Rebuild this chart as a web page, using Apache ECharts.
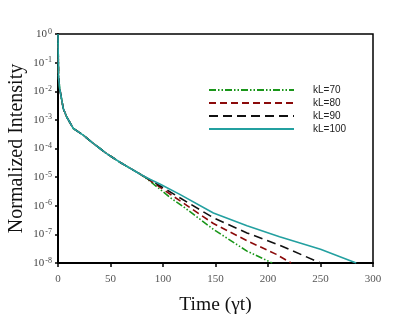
<!DOCTYPE html>
<html>
<head>
<meta charset="utf-8">
<script src="https://cdn.jsdelivr.net/npm/echarts@6/dist/echarts.min.js"></script>
<style>
  html, body { margin: 0; padding: 0; background: #fff; }
  #chart { width: 414px; height: 320px; }
</style>
</head>
<body>
<div id="chart"></div>
<script>
// shared early decay (all kL curves overlap here)
const commonTime = [0, 0.5, 1.6, 5, 8.3, 14.6, 24, 33.6, 40, 46, 59, 78]
const commonIntensity = [1, 3.0e-2, 1.26e-2, 2.5e-3, 1.26e-3, 5.0e-4, 2.95e-4, 1.5e-4, 1.0e-4, 6.8e-5, 3.3e-5, 1.29e-5]

// tails, after the curves split
const time70 = [88, 97, 107, 119, 148, 180, 204]
const int70 = [7.0e-6, 3.8e-6, 1.9e-6, 9.5e-7, 1.5e-7, 2.6e-8, 1.0e-8]
const time80 = [85, 97, 116, 148, 180, 208, 222]
const int80 = [8.9e-6, 4.5e-6, 1.5e-6, 2.4e-7, 6.0e-8, 2.0e-8, 1.0e-8]
const time90 = [85, 97, 116, 148, 180, 211, 250]
const int90 = [9.1e-6, 5.0e-6, 1.9e-6, 3.8e-7, 1.12e-7, 4.2e-8, 1.0e-8]
const time100 = [85, 97, 116, 148, 180, 211, 250, 284]
const int100 = [9.3e-6, 5.75e-6, 2.5e-6, 5.6e-7, 2.0e-7, 8.3e-8, 3.0e-8, 1.0e-8]

const names = ["kL=70", "kL=80", "kL=90", "kL=100"]
const xTicks = [0, 50, 100, 150, 200, 250, 300]

const pairs = (ts, vs) => ts.map((t, i) => [t, vs[i]])
const curve = (ts, vs) => pairs(commonTime, commonIntensity).concat(pairs(ts, vs))

const styles = [
  { color: "#1a961a", type: [7, 2, 1.5, 2, 1.5, 2] },
  { color: "#8b0a0a", type: [7, 4] },
  { color: "#111111", type: [9, 5] },
  { color: "#23a0a0", type: "solid" }
]
const tails = [[time70, int70], [time80, int80], [time90, int90], [time100, int100]]

const chart = echarts.init(document.getElementById("chart"))

const option = {
  animation: false,
  grid: {
    left: 58, top: 34, right: 41, bottom: 57,
    outerBoundsMode: "none",
    show: true, borderColor: "#000", borderWidth: 1.5
  },
  legend: {
    orient: "vertical",
    left: 203, top: 80,
    itemWidth: 85, itemHeight: 10, itemGap: 3,
    data: names,
    itemStyle: { opacity: 0 },
    textStyle: { fontFamily: "Liberation Sans", fontSize: 10, color: "#222", padding: [0, 0, 0, 14] }
  },
  xAxis: {
    type: "value",
    min: 0, max: 300, interval: 50,
    name: "Time (\u03b3t)",
    nameLocation: "middle",
    nameGap: 32,
    nameTextStyle: { fontFamily: "Liberation Serif", fontSize: 19.5, color: "#111" },
    axisLine: { lineStyle: { color: "#000", width: 2 } },
    axisTick: { inside: false, length: 4, lineStyle: { color: "#000", width: 1.5 } },
    axisLabel: { fontFamily: "Liberation Serif", fontSize: 11, color: "#555", margin: 11,
      formatter: (v) => (xTicks.includes(v) ? String(v) : "") },
    splitLine: { show: false }
  },
  yAxis: {
    type: "log",
    logBase: 10,
    min: 1e-8, max: 1, interval: 1,
    name: "Normalized Intensity",
    nameLocation: "middle",
    nameGap: 31,
    nameMoveOverlap: false,
    nameTextStyle: { fontFamily: "Liberation Serif", fontSize: 20, color: "#111" },
    axisLine: { lineStyle: { color: "#000", width: 2 } },
    axisTick: { inside: false, length: 3, lineStyle: { color: "#000", width: 1.5 } },
    axisLabel: {
      margin: 6,
      formatter: (v) => "{b|10}{s|" + Math.round(Math.log10(v)) + "}",
      rich: {
        b: { fontFamily: "Liberation Serif", fontSize: 11, color: "#444" },
        s: { fontFamily: "Liberation Serif", fontSize: 8, color: "#444", verticalAlign: "top", padding: [0, 0, 5, 1] }
      }
    },
    splitLine: { show: false }
  },
  series: names.map((name, i) => ({
    name: name,
    type: "line",
    symbol: "none",
    data: curve(tails[i][0], tails[i][1]),
    lineStyle: { color: styles[i].color, type: styles[i].type, width: 1.6 },
    itemStyle: { color: styles[i].color },
    z: 2 + i
  }))
}

chart.setOption(option)
</script>
</body>
</html>
